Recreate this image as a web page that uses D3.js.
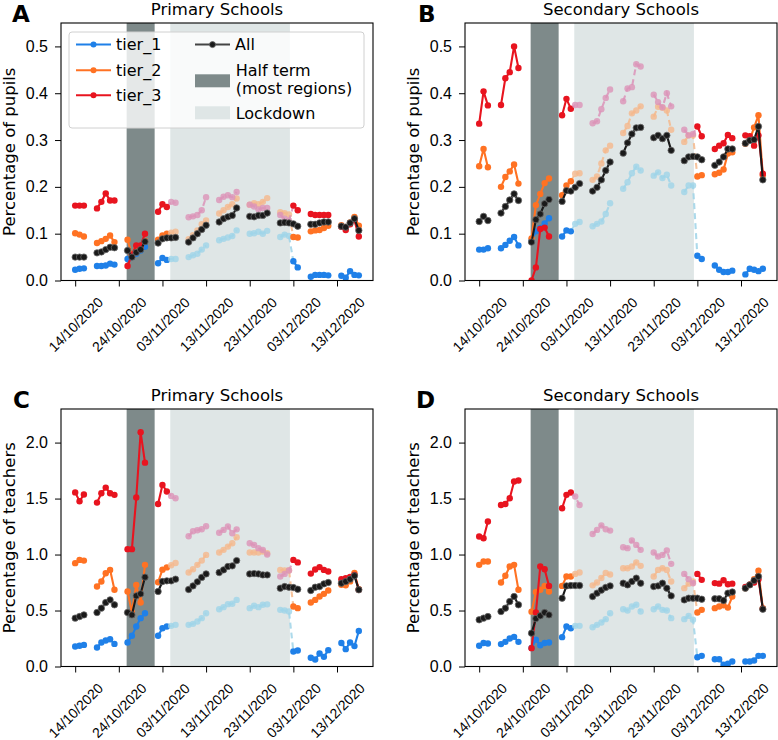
<!DOCTYPE html>
<html>
<head>
<meta charset="utf-8">
<script src="https://cdn.jsdelivr.net/npm/d3@7/dist/d3.min.js"></script>
<style>
body { margin: 0; background: #fff; }
svg { font-family: "DejaVu Sans", sans-serif; }
</style>
</head>
<body>
<svg id="fig" width="778" height="740"></svg>
<script>
// school days (Mon-Fri), with gaps at weekends
var dates = ["2020-10-14", "2020-10-15", "2020-10-16",
	"2020-10-19", "2020-10-20", "2020-10-21", "2020-10-22", "2020-10-23",
	"2020-10-26", "2020-10-27", "2020-10-28", "2020-10-29", "2020-10-30",
	"2020-11-02", "2020-11-03", "2020-11-04", "2020-11-05", "2020-11-06",
	"2020-11-09", "2020-11-10", "2020-11-11", "2020-11-12", "2020-11-13",
	"2020-11-16", "2020-11-17", "2020-11-18", "2020-11-19", "2020-11-20",
	"2020-11-23", "2020-11-24", "2020-11-25", "2020-11-26", "2020-11-27",
	"2020-11-30", "2020-12-01", "2020-12-02", "2020-12-03", "2020-12-04",
	"2020-12-07", "2020-12-08", "2020-12-09", "2020-12-10", "2020-12-11",
	"2020-12-14", "2020-12-15", "2020-12-16", "2020-12-17", "2020-12-18"];

var tickDates = ["2020-10-14", "2020-10-24", "2020-11-03", "2020-11-13", "2020-11-23", "2020-12-03", "2020-12-13"];
var pupilTicks = [0, 0.1, 0.2, 0.3, 0.4, 0.5];
var teacherTicks = [0, 0.5, 1.0, 1.5, 2.0];
var seriesNames = ["tier_1", "tier_2", "tier_3", "All"];
var halfTerm = ["2020-10-25T19:00", "2020-11-01T05:00"];
var lockdown = ["2020-11-04T19:00", "2020-12-02T05:00"];

// A: pupils, primary
var pupPrimT1 = [0.023, 0.025, 0.026, 0.031, 0.031, 0.032, 0.036, 0.034, 0.046, 0.05, 0.057, 0.064, 0.072,
	0.037, 0.048, 0.044, 0.046, 0.046, 0.05, 0.054, 0.057, 0.066, 0.075, 0.086, 0.089, 0.092, 0.095, 0.107,
	0.1, 0.101, 0.104, 0.1, 0.106, 0.093, 0.098, 0.095, 0.041, 0.028, 0.008, 0.012, 0.012, 0.012, 0.011,
	0.01, 0.006, 0.02, 0.012, 0.011];
var pupPrimT2 = [0.101, 0.098, 0.094, 0.08, 0.084, 0.089, 0.096, 0.082, 0.087, 0.055, 0.065, 0.072, 0.085,
	0.087, 0.096, 0.1, 0.102, 0.104, 0.088, 0.097, 0.107, 0.12, 0.128, 0.143, 0.15, 0.157, 0.163, 0.175,
	0.162, 0.165, 0.163, 0.168, 0.176, 0.146, 0.144, 0.141, 0.093, 0.092, 0.105, 0.107, 0.108, 0.112, 0.117,
	0.118, 0.114, 0.124, 0.136, 0.117];
var pupPrimT3 = [0.16, 0.16, 0.16, 0.154, 0.168, 0.186, 0.171, 0.171, 0.031, 0.055, 0.075, 0.075, 0.1,
	0.147, 0.163, 0.157, 0.168, 0.166, 0.135, 0.137, 0.14, 0.15, 0.178, 0.172, 0.179, 0.182, 0.178, 0.189,
	0.162, 0.158, 0.152, 0.155, 0.155, 0.14, 0.132, 0.128, 0.16, 0.15, 0.142, 0.14, 0.14, 0.14, 0.14,
	0.115, 0.108, 0.12, 0.129, 0.094];
var pupPrimAll = [0.05, 0.05, 0.05, 0.059, 0.061, 0.066, 0.071, 0.07, 0.064, 0.05, 0.06, 0.066, 0.083,
	0.08, 0.089, 0.091, 0.091, 0.092, 0.082, 0.091, 0.1, 0.109, 0.118, 0.125, 0.132, 0.136, 0.139, 0.155,
	0.137, 0.136, 0.139, 0.139, 0.144, 0.123, 0.124, 0.123, 0.121, 0.116, 0.12, 0.12, 0.123, 0.125, 0.125,
	0.116, 0.114, 0.123, 0.132, 0.107];

// B: pupils, secondary
var pupSecT1 = [0.066, 0.066, 0.069, 0.069, 0.076, 0.085, 0.093, 0.075, 0.085, 0.105, 0.112, 0.122, 0.133,
	0.094, 0.107, 0.105, 0.121, 0.125, 0.116, 0.121, 0.126, 0.142, 0.165, 0.196, 0.21, 0.229, 0.243, 0.235,
	0.224, 0.231, 0.219, 0.226, 0.203, 0.189, 0.203, 0.203, 0.053, 0.046, 0.032, 0.023, 0.018, 0.018, 0.021,
	0.013, 0.025, 0.023, 0.02, 0.025];
var pupSecT2 = [0.244, 0.281, 0.242, 0.2, 0.221, 0.233, 0.248, 0.207, 0.09, 0.161, 0.185, 0.208, 0.218,
	0.182, 0.203, 0.212, 0.228, 0.229, 0.215, 0.222, 0.25, 0.278, 0.288, 0.315, 0.33, 0.357, 0.363, 0.372,
	0.35, 0.371, 0.369, 0.363, 0.322, 0.296, 0.31, 0.31, 0.222, 0.225, 0.227, 0.23, 0.237, 0.271, 0.274,
	0.292, 0.3, 0.327, 0.353, 0.225];
var pupSecT3 = [0.335, 0.404, 0.374, 0.375, 0.432, 0.445, 0.5, 0.454, 0.0, 0.028, 0.11, 0.113, 0.094,
	0.353, 0.388, 0.367, 0.375, 0.375, 0.336, 0.34, 0.366, 0.39, 0.408, 0.383, 0.41, 0.413, 0.462, 0.457,
	0.397, 0.381, 0.37, 0.4, 0.372, 0.322, 0.31, 0.313, 0.329, 0.308, 0.281, 0.288, 0.293, 0.311, 0.304,
	0.31, 0.308, 0.288, 0.31, 0.228];
var pupSecAll = [0.126, 0.137, 0.128, 0.144, 0.158, 0.172, 0.185, 0.171, 0.082, 0.13, 0.142, 0.164, 0.173,
	0.169, 0.192, 0.191, 0.199, 0.207, 0.191, 0.199, 0.215, 0.235, 0.253, 0.272, 0.294, 0.313, 0.326, 0.327,
	0.305, 0.31, 0.303, 0.31, 0.278, 0.256, 0.264, 0.265, 0.264, 0.258, 0.246, 0.253, 0.264, 0.281, 0.281,
	0.293, 0.299, 0.301, 0.329, 0.215];

// C: teachers, primary
var teaPrimT1 = [0.179, 0.185, 0.193, 0.17, 0.214, 0.232, 0.244, 0.202, 0.214, 0.274, 0.357, 0.432, 0.476,
	0.274, 0.342, 0.357, 0.363, 0.372, 0.372, 0.381, 0.402, 0.432, 0.476, 0.512, 0.53, 0.557, 0.56, 0.595,
	0.521, 0.542, 0.53, 0.551, 0.555, 0.506, 0.5, 0.491, 0.134, 0.143, 0.078, 0.062, 0.116, 0.086, 0.146,
	0.21, 0.155, 0.214, 0.182, 0.317];
var teaPrimT2 = [0.923, 0.952, 0.946, 0.714, 0.759, 0.833, 0.863, 0.685, 0.67, 0.486, 0.729, 0.571, 0.908,
	0.753, 0.865, 0.885, 0.905, 0.925, 0.839, 0.869, 0.908, 0.946, 0.997, 1.018, 1.042, 1.071, 1.101, 1.155,
	1.018, 1.018, 1.018, 1.027, 1.012, 0.863, 0.857, 0.86, 0.536, 0.521, 0.571, 0.595, 0.625, 0.649, 0.679,
	0.73, 0.725, 0.76, 0.835, 0.69];
var teaPrimT3 = [1.555, 1.476, 1.536, 1.464, 1.548, 1.598, 1.548, 1.533, 1.048, 1.048, 1.509, 2.092, 1.821,
	1.452, 1.622, 1.563, 1.524, 1.503, 1.164, 1.208, 1.217, 1.226, 1.253, 1.195, 1.22, 1.25, 1.19, 1.225,
	1.101, 1.086, 1.057, 1.04, 1.0, 0.804, 0.827, 0.857, 0.952, 0.93, 0.83, 0.866, 0.888, 0.863, 0.848,
	0.78, 0.789, 0.8, 0.818, 0.685];
var teaPrimAll = [0.432, 0.446, 0.461, 0.482, 0.521, 0.571, 0.595, 0.551, 0.482, 0.461, 0.631, 0.649, 0.798,
	0.67, 0.759, 0.765, 0.765, 0.78, 0.688, 0.72, 0.756, 0.796, 0.827, 0.839, 0.863, 0.893, 0.899, 0.946,
	0.827, 0.83, 0.827, 0.818, 0.818, 0.699, 0.714, 0.708, 0.705, 0.69, 0.679, 0.708, 0.714, 0.738, 0.75,
	0.744, 0.759, 0.78, 0.81, 0.685];

// D: teachers, secondary
var teaSecT1 = [0.185, 0.21, 0.205, 0.2, 0.22, 0.25, 0.265, 0.22, 0.165, 0.24, 0.19, 0.21, 0.215,
	0.262, 0.357, 0.342, 0.363, 0.363, 0.351, 0.372, 0.393, 0.423, 0.476, 0.512, 0.5, 0.536, 0.551, 0.491,
	0.512, 0.536, 0.506, 0.5, 0.432, 0.423, 0.452, 0.417, 0.083, 0.095, 0.065, 0.065, 0.015, 0.024, 0.045,
	0.045, 0.045, 0.054, 0.095, 0.095];
var teaSecT2 = [0.908, 0.938, 0.938, 0.75, 0.81, 0.893, 0.908, 0.685, 0.49, 0.665, 0.685, 0.72, 0.67,
	0.72, 0.804, 0.804, 0.827, 0.839, 0.725, 0.75, 0.79, 0.836, 0.822, 0.878, 0.878, 0.893, 0.929, 0.899,
	0.804, 0.863, 0.878, 0.863, 0.759, 0.7, 0.74, 0.76, 0.482, 0.506, 0.521, 0.536, 0.547, 0.526, 0.625,
	0.7, 0.73, 0.78, 0.855, 0.52];
var teaSecT3 = [1.161, 1.146, 1.295, 1.443, 1.452, 1.503, 1.652, 1.661, 0.164, 0.482, 0.893, 0.869, 0.72,
	1.414, 1.533, 1.554, 1.518, 1.443, 1.183, 1.22, 1.26, 1.226, 1.214, 1.065, 1.057, 1.125, 1.086, 1.042,
	1.018, 0.982, 0.997, 1.036, 0.917, 0.827, 0.78, 0.744, 0.827, 0.774, 0.745, 0.74, 0.77, 0.735, 0.74,
	0.71, 0.73, 0.75, 0.78, 0.515];
var teaSecAll = [0.417, 0.432, 0.446, 0.491, 0.521, 0.58, 0.625, 0.551, 0.298, 0.428, 0.453, 0.482, 0.461,
	0.61, 0.72, 0.723, 0.723, 0.723, 0.625, 0.655, 0.682, 0.706, 0.72, 0.744, 0.729, 0.759, 0.789, 0.744,
	0.714, 0.72, 0.744, 0.699, 0.631, 0.595, 0.61, 0.61, 0.61, 0.601, 0.605, 0.605, 0.59, 0.655, 0.665,
	0.699, 0.729, 0.768, 0.804, 0.512];

var colors = ["#1f80e8", "#ff7223", "#e8141f", "#1a1a1a"];
var fadedColors = ["#9fd4e8", "#f5b88c", "#dc93b8", "#1a1a1a"];
var halfTermColor = "#7e8a8a", lockdownColor = "#dfe6e6";

var plotW = 312, plotH = 257.5;
var parseDay = d3.utcParse("%Y-%m-%d"), parseTime = d3.utcParse("%Y-%m-%dT%H:%M");
var days = dates.map(parseDay);
var dayMs = 864e5;
var xDomain = [new Date(+days[0] - 3.25 * dayMs), new Date(+days[days.length - 1] + 3.25 * dayMs)];
var lockFrom = parseDay("2020-11-05"), lockTo = parseDay("2020-12-02");

// split school days into weeks
var weeks = [];
days.forEach(function(d, i) {
	if (i === 0 || (d - days[i - 1]) > dayMs) weeks.push([i, i]);
	else weeks[weeks.length - 1][1] = i;
});

var panels = [
	{letter: "A", title: "Primary Schools", ylabel: "Percentage of pupils", left: 61, top: 23,
		series: [pupPrimT1, pupPrimT2, pupPrimT3, pupPrimAll], yMax: 0.55, ticks: pupilTicks, legend: true, lx: 12},
	{letter: "B", title: "Secondary Schools", ylabel: "Percentage of pupils", left: 465, top: 23,
		series: [pupSecT1, pupSecT2, pupSecT3, pupSecAll], yMax: 0.55, ticks: pupilTicks, legend: false, lx: 418},
	{letter: "C", title: "Primary Schools", ylabel: "Percentage of teachers", left: 61, top: 409,
		series: [teaPrimT1, teaPrimT2, teaPrimT3, teaPrimAll], yMax: 2.3, ticks: teacherTicks, legend: false, lx: 13},
	{letter: "D", title: "Secondary Schools", ylabel: "Percentage of teachers", left: 465, top: 409,
		series: [teaSecT1, teaSecT2, teaSecT3, teaSecAll], yMax: 2.3, ticks: teacherTicks, legend: false, lx: 416}
];

var svg = d3.select("#fig");

panels.forEach(function(p, k) { drawPanel(p, k); });

function inLock(i) {
	return days[i] >= lockFrom && days[i] <= lockTo;
}

function drawPanel(p, k) {
	var x = d3.scaleUtc().domain(xDomain).range([0, plotW]);
	var y = d3.scaleLinear().domain([0, p.yMax]).range([plotH, 0]);

	var g = svg.append("g").attr("transform", "translate(" + p.left + "," + p.top + ")");

	svg.append("clipPath").attr("id", "clip" + k)
		.append("rect").attr("width", plotW).attr("height", plotH);

	// shaded periods
	g.append("rect")
		.attr("x", x(parseTime(halfTerm[0]))).attr("y", 0)
		.attr("width", x(parseTime(halfTerm[1])) - x(parseTime(halfTerm[0])))
		.attr("height", plotH).attr("fill", halfTermColor);
	g.append("rect")
		.attr("x", x(parseTime(lockdown[0]))).attr("y", 0)
		.attr("width", x(parseTime(lockdown[1])) - x(parseTime(lockdown[0])))
		.attr("height", plotH).attr("fill", lockdownColor);

	var plot = g.append("g").attr("clip-path", "url(#clip" + k + ")");
	var line = d3.line().x(function(i) { return x(days[i]); }).y(function(i) { return y(vals[i]); });
	var vals;

	p.series.forEach(function(values, s) {
		vals = values;
		var tiers = s < 3;
		weeks.forEach(function(w) {
			// group consecutive segments by faded / solid
			var runs = [], cur = null;
			for (var i = w[0]; i < w[1]; i++) {
				var faded = tiers && (inLock(i) || inLock(i + 1));
				if (!cur || cur.faded !== faded) {
					cur = {faded: faded, idx: [i]};
					runs.push(cur);
				}
				cur.idx.push(i + 1);
			}
			runs.forEach(function(r) {
				plot.append("path")
					.attr("d", line(r.idx))
					.attr("fill", "none")
					.attr("stroke", r.faded ? fadedColors[s] : colors[s])
					.attr("stroke-width", 2.1)
					.attr("stroke-opacity", r.faded ? 0.85 : 1)
					.attr("stroke-dasharray", r.faded ? "6,4" : null);
			});
		});
		plot.selectAll(null)
			.data(d3.range(days.length))
			.enter().append("circle")
			.attr("cx", function(i) { return x(days[i]); })
			.attr("cy", function(i) { return y(values[i]); })
			.attr("r", 3.2)
			.attr("fill", function(i) { return tiers && inLock(i) ? fadedColors[s] : colors[s]; })
			.attr("fill-opacity", function(i) { return tiers && inLock(i) ? 0.8 : 1; })
			.attr("stroke", tiers ? "none" : "#666")
			.attr("stroke-width", 0.8);
	});

	// frame
	g.append("rect").attr("width", plotW).attr("height", plotH)
		.attr("fill", "none").attr("stroke", "#000").attr("stroke-width", 1.1);

	// axes
	var xAxis = g.append("g").attr("transform", "translate(0," + plotH + ")")
		.call(d3.axisBottom(x).tickValues(tickDates.map(parseDay)).tickSize(6)
			.tickFormat(d3.utcFormat("%d/%m/%Y")));
	xAxis.select(".domain").remove();
	xAxis.selectAll("line").attr("stroke", "#000");
	xAxis.selectAll("text")
		.attr("y", 0).attr("dy", "0.35em")
		.attr("transform", "translate(0,44) rotate(-45)")
		.attr("text-anchor", "middle")
		.attr("fill", "#000")
		.style("font-size", "14px");

	var yAxis = g.append("g")
		.call(d3.axisLeft(y).tickValues(p.ticks).tickSize(6).tickPadding(7).tickFormat(d3.format(".1f")));
	yAxis.select(".domain").remove();
	yAxis.selectAll("line").attr("stroke", "#000");
	yAxis.selectAll("text").attr("fill", "#000").style("font-size", "16px");

	// labels
	g.append("text")
		.attr("transform", "translate(-46," + (plotH / 2) + ") rotate(-90)")
		.attr("text-anchor", "middle")
		.style("font-size", "16.5px")
		.text(p.ylabel);
	g.append("text")
		.attr("x", plotW / 2).attr("y", -8)
		.attr("text-anchor", "middle")
		.style("font-size", "16.5px")
		.text(p.title);
	svg.append("text")
		.attr("x", p.lx).attr("y", p.top - 1)
		.style("font-size", "23px").style("font-weight", "bold")
		.text(p.letter);

	if (p.legend) drawLegend(g.append("g").attr("transform", "translate(8,9)"));
}

function drawLegend(lg) {
	lg.append("rect").attr("width", 295).attr("height", 96).attr("rx", 3)
		.attr("fill", "#fff").attr("fill-opacity", 0.8)
		.attr("stroke", "#d0d0d0").attr("stroke-width", 1);

	var rows = [[7, 12.6, 0], [7, 38.3, 1], [7, 63.3, 2], [126, 12.6, 3]];
	rows.forEach(function(r) {
		var s = r[2];
		lg.append("line").attr("x1", r[0]).attr("x2", r[0] + 35).attr("y1", r[1]).attr("y2", r[1])
			.attr("stroke", s === 3 ? "#444" : colors[s]).attr("stroke-width", 2);
		lg.append("circle").attr("cx", r[0] + 17.5).attr("cy", r[1]).attr("r", 3)
			.attr("fill", colors[s]).attr("stroke", s === 3 ? "#666" : "none").attr("stroke-width", 0.8);
		lg.append("text").attr("x", r[0] + 40).attr("y", r[1]).attr("dy", "0.35em")
			.style("font-size", "16px").text(seriesNames[s]);
	});

	lg.append("rect").attr("x", 126).attr("y", 42.3).attr("width", 35).attr("height", 13)
		.attr("fill", halfTermColor);
	lg.append("text").attr("x", 166.7).attr("y", 38.3).attr("dy", "0.35em")
		.style("font-size", "16px").text("Half term");
	lg.append("text").attr("x", 166.7).attr("y", 56.6).attr("dy", "0.35em")
		.style("font-size", "16px").text("(most regions)");

	lg.append("rect").attr("x", 126).attr("y", 74.3).attr("width", 35).attr("height", 13)
		.attr("fill", lockdownColor);
	lg.append("text").attr("x", 166.7).attr("y", 81).attr("dy", "0.35em")
		.style("font-size", "16px").text("Lockdown");
}
</script>
</body>
</html>
